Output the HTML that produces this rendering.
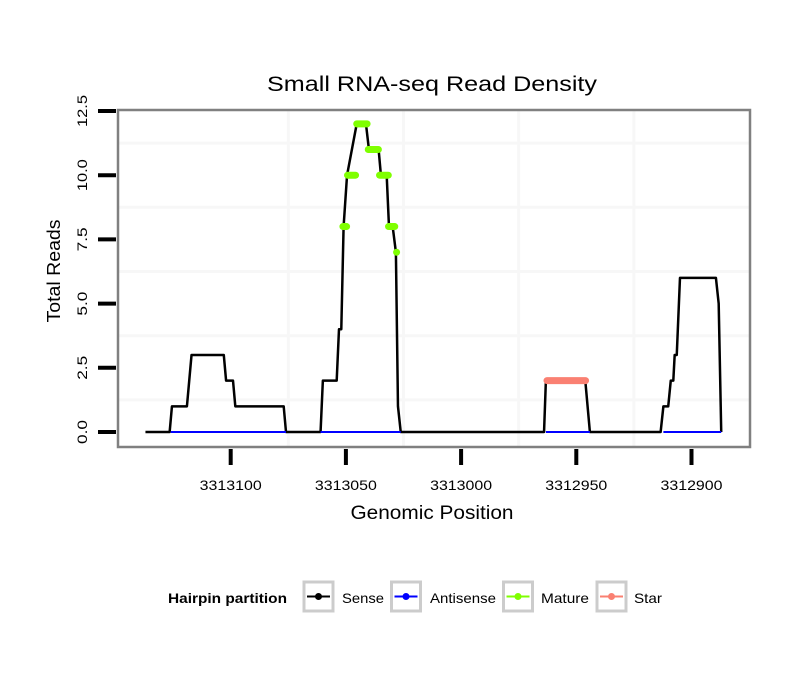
<!DOCTYPE html>
<html><head><meta charset="utf-8"><style>
html,body{margin:0;padding:0;background:#fff;}
svg{display:block;font-family:"Liberation Sans",Arial,sans-serif;}
</style></head><body>
<svg id="chart" width="810" height="690" viewBox="0 0 810 690">
<rect x="0" y="0" width="810" height="690" fill="#fff"/>
<text x="432" y="91" text-anchor="middle" font-size="21" textLength="330" lengthAdjust="spacingAndGlyphs" fill="#000">Small RNA-seq Read Density</text>
<g id="grid"></g>
<g id="series"></g>
<rect x="118" y="110" width="632" height="337" fill="none" stroke="#808080" stroke-width="2.5"/>
<g id="axes"></g>
<text transform="translate(60,271) rotate(-90)" text-anchor="middle" font-size="18" textLength="103" lengthAdjust="spacingAndGlyphs" fill="#000">Total Reads</text>
<text x="432" y="519" text-anchor="middle" font-size="19" textLength="163" lengthAdjust="spacingAndGlyphs" fill="#000">Genomic Position</text>
<g>
<text x="168" y="603" font-size="14" font-weight="bold" textLength="119" lengthAdjust="spacingAndGlyphs" fill="#000">Hairpin partition</text>
<g>
<rect x="304" y="582" width="29" height="29" fill="#fff" stroke="#cccccc" stroke-width="3"/>
<line x1="307" y1="596.5" x2="330" y2="596.5" stroke="#000" stroke-width="2"/><circle cx="318.5" cy="596.5" r="3.5" fill="#000"/>
<text x="342" y="603" font-size="14" textLength="42" lengthAdjust="spacingAndGlyphs" fill="#000">Sense</text></g>
<g>
<rect x="391.5" y="582" width="29" height="29" fill="#fff" stroke="#cccccc" stroke-width="3"/>
<line x1="394.5" y1="596.5" x2="417.5" y2="596.5" stroke="#0000ff" stroke-width="2"/><circle cx="406" cy="596.5" r="3.5" fill="#0000ff"/>
<text x="430" y="603" font-size="14" textLength="66" lengthAdjust="spacingAndGlyphs" fill="#000">Antisense</text></g>
<g>
<rect x="503.5" y="582" width="29" height="29" fill="#fff" stroke="#cccccc" stroke-width="3"/>
<line x1="506.5" y1="596.5" x2="529.5" y2="596.5" stroke="#7fff00" stroke-width="2"/><circle cx="518" cy="596.5" r="3.5" fill="#7fff00"/>
<text x="541" y="603" font-size="14" textLength="48" lengthAdjust="spacingAndGlyphs" fill="#000">Mature</text></g>
<g>
<rect x="597" y="582" width="29" height="29" fill="#fff" stroke="#cccccc" stroke-width="3"/>
<line x1="600" y1="596.5" x2="623" y2="596.5" stroke="#fa8072" stroke-width="2"/><circle cx="611.5" cy="596.5" r="3.5" fill="#fa8072"/>
<text x="634" y="603" font-size="14" textLength="28" lengthAdjust="spacingAndGlyphs" fill="#000">Star</text></g>
</g>
</svg>
<script>
const xTicks = [3313100, 3313050, 3313000, 3312950, 3312900];
const xTickLabels = ["3313100", "3313050", "3313000", "3312950", "3312900"];
const xMinorGrid = [3313075, 3313025, 3312975, 3312925];
const yTicks = [0, 2.5, 5, 7.5, 10, 12.5];
const yTickLabels = ["0.0", "2.5", "5.0", "7.5", "10.0", "12.5"];
const yMinorGrid = [1.25, 3.75, 6.25, 8.75, 11.25];
const sensePos = [3313137, 3313126.5, 3313125.5, 3313119, 3313117, 3313103, 3313102, 3313099, 3313098, 3313077, 3313076, 3313061, 3313060, 3313054, 3313053, 3313052, 3313051, 3313049.5, 3313045.3, 3313041.3, 3313040, 3313035.8, 3313034.8, 3313032.3, 3313031.3, 3313029.7, 3313028.3, 3313027.4, 3313026.2, 3312964, 3312963.2, 3312946.1, 3312944.1, 3312913.4, 3312912.2, 3312910.1, 3312909, 3312907.9, 3312907.3, 3312906.4, 3312905, 3312889.4, 3312888.2, 3312887.1];
const senseVal = [0, 0, 1, 1, 3, 3, 2, 2, 1, 1, 0, 0, 2, 2, 4, 4, 8, 10, 12, 12, 11, 11, 10, 10, 8, 8, 7, 1, 0, 0, 2, 2, 0, 0, 1, 1, 2, 2, 3, 3, 6, 6, 5, 0];
const antisenseStart = [3313126, 3313061, 3312963.2, 3312912.2];
const antisenseEnd = [3313076, 3313026.2, 3312944.1, 3312887.1];
const antisenseVal = [0, 0, 0, 0];
const matureStart = [3313051.3, 3313049.3, 3313045.3, 3313040.3, 3313035.4, 3313031.5, 3313028];
const matureEnd = [3313049.7, 3313045.8, 3313040.8, 3313035.9, 3313031.6, 3313028.8, 3313028];
const matureVal = [8, 10, 12, 11, 10, 8, 7];
const starStart = [3312962.7];
const starEnd = [3312946.0];
const starVal = [2];

const NS = "http://www.w3.org/2000/svg";
const X0 = 230.7, XPB = 2.304, Y0 = 432, YPU = 25.68;
function xs(p){ return X0 + (3313100 - p) * XPB; }
function ys(v){ return Y0 - v * YPU; }
function mk(tag, attrs, parent){
  const e = document.createElementNS(NS, tag);
  for (const k in attrs) e.setAttribute(k, attrs[k]);
  parent.appendChild(e); return e;
}
const grid = document.getElementById('grid');
const series = document.getElementById('series');
const axes = document.getElementById('axes');

xMinorGrid.forEach(p => {
  const l = mk('line', {x1: xs(p), x2: xs(p), y1: 111, y2: 446, stroke: '#f7f7f7', 'stroke-width': 3}, grid);
  
  
});
yMinorGrid.forEach(v => {
  const l = mk('line', {x1: 119, x2: 749, y1: ys(v), y2: ys(v), stroke: '#f7f7f7', 'stroke-width': 3}, grid);
  
  
});

const sl = mk('polyline', {points: sensePos.map((p,i) => xs(p)+','+ys(senseVal[i])).join(' '), fill: 'none', stroke: '#000', 'stroke-width': 2.5, 'stroke-linejoin': 'round'}, series);



antisenseStart.forEach((s,i) => {
  const l = mk('line', {x1: xs(s), x2: xs(antisenseEnd[i]), y1: ys(antisenseVal[i]), y2: ys(antisenseVal[i]), stroke: '#0000ff', 'stroke-width': 2}, series);
  
  
});
matureStart.forEach((s,i) => {
  const l = mk('line', {x1: xs(s), x2: xs(matureEnd[i]), y1: ys(matureVal[i]), y2: ys(matureVal[i]), stroke: '#7fff00', 'stroke-width': 7, 'stroke-linecap': 'round'}, series);
  
  
});
starStart.forEach((s,i) => {
  const l = mk('line', {x1: xs(s), x2: xs(starEnd[i]), y1: ys(starVal[i]), y2: ys(starVal[i]), stroke: '#fa8072', 'stroke-width': 7, 'stroke-linecap': 'round'}, series);
  
  
});

yTicks.forEach((v,i) => {
  const t = mk('line', {x1: 98, x2: 116, y1: ys(v), y2: ys(v), stroke: '#000', 'stroke-width': 4}, axes);
  
  
  const len = yTickLabels[i].length === 4 ? 32 : 24;
  const tx = mk('text', {transform: 'translate(87,'+ys(v)+') rotate(-90)', 'text-anchor': 'middle', 'font-size': 14, textLength: len, lengthAdjust: 'spacingAndGlyphs', fill: '#000'}, axes);
  tx.textContent = yTickLabels[i];
  
  
});
xTicks.forEach((p,i) => {
  const t = mk('line', {x1: xs(p), x2: xs(p), y1: 449, y2: 465, stroke: '#000', 'stroke-width': 4}, axes);
  
  
  const tx = mk('text', {x: xs(p), y: 490, 'text-anchor': 'middle', 'font-size': 14, textLength: 62, lengthAdjust: 'spacingAndGlyphs', fill: '#000'}, axes);
  tx.textContent = xTickLabels[i];
  
  
});
</script>
</body></html>
